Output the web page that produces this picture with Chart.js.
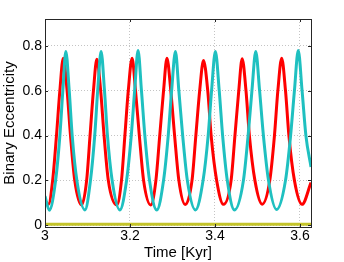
<!DOCTYPE html>
<html>
<head>
<meta charset="utf-8">
<script src="https://cdn.jsdelivr.net/npm/chart.js@4"></script>
<style>
  html, body { margin: 0; padding: 0; background: #fff; }
  #wrap { width: 344px; height: 262px; }
</style>
</head>
<body>
<div id="wrap"><canvas id="ecc" width="344" height="262"></canvas></div>
<script>
// ── Data ────────────────────────────────────────────────────────
const redTime = [3.000,
  3.008, 3.018, 3.027, 3.035, 3.043, 3.052, 3.060, 3.070,
  3.086, 3.098, 3.106, 3.114, 3.122, 3.131, 3.139, 3.149,
  3.169, 3.180, 3.188, 3.196, 3.205, 3.213, 3.222, 3.232,
  3.249, 3.261, 3.270, 3.279, 3.287, 3.296, 3.305, 3.315,
  3.330, 3.346, 3.355, 3.364, 3.373, 3.383, 3.391, 3.404,
  3.420, 3.438, 3.447, 3.456, 3.464, 3.473, 3.481, 3.494,
  3.511, 3.529, 3.540, 3.548, 3.557, 3.566, 3.574, 3.587,
  3.605, 3.626];
const redEcc = [0.11,
  0.093, 0.2, 0.4, 0.6, 0.745, 0.6, 0.4, 0.2,
  0.090, 0.2, 0.4, 0.6, 0.740, 0.6, 0.4, 0.2,
  0.090, 0.2, 0.4, 0.6, 0.745, 0.6, 0.4, 0.2,
  0.090, 0.2, 0.4, 0.6, 0.745, 0.6, 0.4, 0.2,
  0.092, 0.2, 0.4, 0.6, 0.735, 0.6, 0.4, 0.2,
  0.093, 0.2, 0.4, 0.6, 0.743, 0.6, 0.4, 0.2,
  0.094, 0.2, 0.4, 0.6, 0.745, 0.6, 0.4, 0.2,
  0.093, 0.19];

const cyanTime = [3.000,
  3.010, 3.025, 3.035, 3.042, 3.049, 3.057, 3.064, 3.075,
  3.094, 3.107, 3.117, 3.124, 3.132, 3.140, 3.147, 3.158,
  3.176, 3.192, 3.203, 3.211, 3.219, 3.227, 3.235, 3.246,
  3.263, 3.279, 3.290, 3.298, 3.307, 3.315, 3.324, 3.335,
  3.354, 3.372, 3.384, 3.392, 3.401, 3.410, 3.418, 3.429,
  3.446, 3.467, 3.478, 3.487, 3.496, 3.505, 3.514, 3.526,
  3.545, 3.566, 3.578, 3.587, 3.596, 3.605, 3.614,
  3.626];
const cyanEcc = [0.13,
  0.067, 0.2, 0.4, 0.6, 0.775, 0.6, 0.4, 0.2,
  0.068, 0.2, 0.4, 0.6, 0.775, 0.6, 0.4, 0.2,
  0.068, 0.2, 0.4, 0.6, 0.780, 0.6, 0.4, 0.2,
  0.068, 0.2, 0.4, 0.6, 0.775, 0.6, 0.4, 0.2,
  0.068, 0.2, 0.4, 0.6, 0.775, 0.6, 0.4, 0.2,
  0.068, 0.2, 0.4, 0.6, 0.775, 0.6, 0.4, 0.2,
  0.070, 0.2, 0.4, 0.6, 0.780, 0.6, 0.4,
  0.26];

const flatTime = [3.0, 3.626];
const flatEcc = [0.004, 0.004];

const xTicks = [3, 3.2, 3.4, 3.6];
const yTicks = [0, 0.2, 0.4, 0.6, 0.8];

// ── Helpers ─────────────────────────────────────────────────────
const zip = (xs, ys) => xs.map((x, i) => ({ x, y: ys[i] }));
const FONT = "'Liberation Sans', Arial, sans-serif";

// box + inward tick marks, matlab style
const boxPlugin = {
  id: 'box',
  afterDraw(chart) {
    const { ctx, chartArea: a, scales } = chart;
    ctx.save();
    ctx.strokeStyle = '#262626';
    ctx.lineWidth = 1;
    ctx.beginPath();
    xTicks.forEach(v => {
      const px = Math.round(scales.x.getPixelForValue(v)) + 0.5;
      ctx.moveTo(px, a.bottom); ctx.lineTo(px, a.bottom - 3);
      ctx.moveTo(px, a.top); ctx.lineTo(px, a.top + 3);
    });
    yTicks.forEach(v => {
      const py = Math.round(scales.y.getPixelForValue(v)) + 0.5;
      ctx.moveTo(a.left, py); ctx.lineTo(a.left + 3, py);
      ctx.moveTo(a.right, py); ctx.lineTo(a.right - 3, py);
    });
    ctx.stroke();
    ctx.strokeRect(Math.round(a.left) + 0.5, Math.round(a.top) + 0.5,
      Math.round(a.right - a.left), Math.round(a.bottom - a.top));
    ctx.restore();
  }
};

new Chart(document.getElementById('ecc'), {
  type: 'line',
  data: {
    datasets: [
      {
        label: 'inner',
        data: zip(cyanTime, cyanEcc),
        borderColor: '#1fc0c0',
        borderWidth: 3,
        pointRadius: 0,
        cubicInterpolationMode: 'monotone',
        order: 0
      },
      {
        label: 'outer',
        data: zip(redTime, redEcc),
        borderColor: '#ff0000',
        borderWidth: 3,
        pointRadius: 0,
        cubicInterpolationMode: 'monotone',
        order: 1
      },
      {
        label: 'planet',
        data: zip(flatTime, flatEcc),
        borderColor: '#c4c42a',
        borderWidth: 3,
        pointRadius: 0,
        order: 2
      }
    ]
  },
  options: {
    responsive: false,
    animation: false,
    devicePixelRatio: 1,
    layout: { padding: { left: 0, right: 33, top: 19, bottom: 0 } },
    plugins: { legend: { display: false }, tooltip: { enabled: false } },
    scales: {
      x: {
        type: 'linear',
        min: 3,
        max: 3.626,
        afterBuildTicks: s => { s.ticks = xTicks.map(v => ({ value: v })); },
        afterFit: s => { s.height = 35; },
        ticks: {
          padding: 1,
          color: '#000',
          font: { family: FONT, size: 14 },
          maxRotation: 0,
          callback: v => String(v)
        },
        grid: { color: '#c4c4c4', lineWidth: 1, drawTicks: false },
        border: { display: false, dash: [1, 2] },
        title: {
          display: true,
          text: 'Time [Kyr]',
          color: '#000',
          font: { family: FONT, size: 15 },
          padding: { top: 0, bottom: 0 }
        }
      },
      y: {
        type: 'linear',
        min: -0.008,
        max: 0.92,
        afterBuildTicks: s => { s.ticks = yTicks.map(v => ({ value: v })); },
        afterFit: s => { s.width = 45; },
        ticks: {
          padding: 3,
          color: '#000',
          font: { family: FONT, size: 14 },
          callback: v => String(v)
        },
        grid: { color: '#c4c4c4', lineWidth: 1, drawTicks: false },
        border: { display: false, dash: [1, 2] },
        title: {
          display: true,
          text: 'Binary Eccentricity',
          color: '#000',
          font: { family: FONT, size: 15 },
          padding: { top: 1, bottom: 0 }
        }
      }
    }
  },
  plugins: [boxPlugin]
});
</script>
</body>
</html>
